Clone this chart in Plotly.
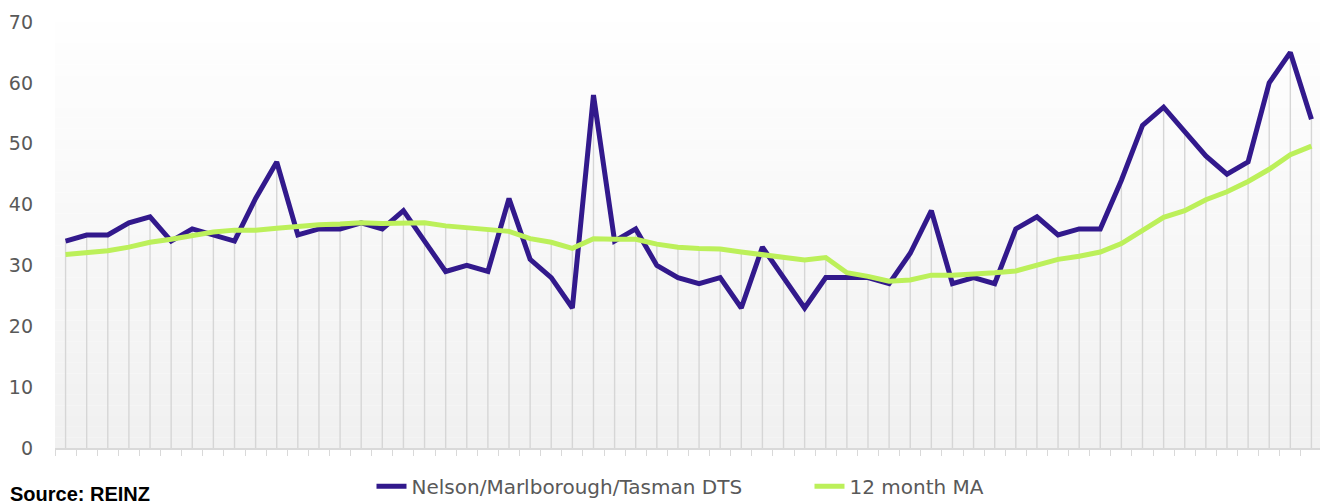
import plotly.graph_objects as go

# monthly days-to-sell, Nelson/Marlborough/Tasman (60 months)
months = list(range(1, 61))
dts = [34, 35, 35, 37, 38, 34, 36, 35, 34, 41,
       47, 35, 36, 36, 37, 36, 39, 34, 29, 30,
       29, 41, 31, 28, 23, 58, 34, 36, 30, 28,
       27, 28, 23, 33, 28, 23, 28, 28, 28, 27,
       32, 39, 27, 28, 27, 36, 38, 35, 36, 36,
       44, 53, 56, 52, 48, 45, 47, 60, 65, 54]
ma12 = [31.8, 32.1, 32.4, 33.0, 33.8, 34.3, 34.9, 35.5, 35.8, 35.8,
        36.1, 36.5, 36.7, 36.8, 37.0, 36.9, 37.0, 37.0, 36.5, 36.2,
        35.8, 35.6, 34.4, 33.8, 32.8, 34.4, 34.3, 34.3, 33.5, 33.0,
        32.8, 32.7, 32.2, 31.7, 31.3, 30.9, 31.3, 28.8, 28.2, 27.4,
        27.6, 28.4, 28.4, 28.5, 28.8, 29.1, 30.0, 31.0, 31.5, 32.2,
        33.6, 35.8, 37.9, 39.0, 40.8, 42.1, 43.8, 45.8, 48.2, 49.6]
y_ticks = [0, 10, 20, 30, 40, 50, 60, 70]

PURPLE = '#32198c'
GREEN = '#bcf05a'
GREY_TXT = '#595959'
FONT = 'DejaVu Sans'

fig = go.Figure()

# drop lines from the higher series down to the axis
drop_x, drop_y = [], []
for m, a, b in zip(months, dts, ma12):
    drop_x += [m, m, None]
    drop_y += [0, max(a, b), None]
fig.add_trace(go.Scatter(x=drop_x, y=drop_y, mode='lines',
                         line=dict(color='#d6d6d6', width=1.4),
                         showlegend=False, hoverinfo='skip'))

fig.add_trace(go.Scatter(x=months, y=dts, mode='lines',
                         name='Nelson/Marlborough/Tasman DTS',
                         line=dict(color=PURPLE, width=5)))
fig.add_trace(go.Scatter(x=months, y=ma12, mode='lines',
                         name='12 month MA',
                         line=dict(color=GREEN, width=5)))

# soft vertical gradient behind the plot area
n_bands = 40
for i in range(n_bands):
    t = i / n_bands
    c = int(241 + (255 - 241) * t)
    fig.add_shape(type='rect', xref='x domain', yref='y domain',
                  x0=0, x1=1, y0=t, y1=(i + 1) / n_bands,
                  fillcolor=f'rgb({c},{c},{c})', line_width=0, layer='below')

# page body adds an 8px offset, so the figure is 8px smaller than the window
fig.add_annotation(text='<b>Source: REINZ</b>', xref='paper', yref='paper',
                   x=-0.0371, y=-0.078, xanchor='left', yanchor='top',
                   showarrow=False, font=dict(family='Arial', size=20, color='#000000'))

fig.update_layout(
    width=1320, height=496,
    margin=dict(l=47, r=6, t=14, b=56),
    paper_bgcolor='white',
    plot_bgcolor='white',
    font=dict(family=FONT, color=GREY_TXT),
    legend=dict(orientation='h', x=0.2498, y=0.075, yref='container',
                xanchor='left', yanchor='top',
                font=dict(size=20, color=GREY_TXT), entrywidth=393,
                entrywidthmode='pixels', bgcolor='rgba(0,0,0,0)'),
    hovermode='x unified',
)
fig.update_xaxes(range=[0.5, 60.5], showgrid=False, zeroline=False,
                 showline=True, linecolor='#d9d9d9', linewidth=1.5,
                 tickmode='array', tickvals=[m + 0.5 for m in [0] + months],
                 ticktext=[''] * 61, ticks='outside', ticklen=6,
                 tickcolor='#d9d9d9', tickwidth=1.3, automargin=False)
fig.update_yaxes(range=[0, 70], tickvals=y_ticks, showgrid=False, zeroline=False,
                 showline=False, tickfont=dict(size=19, color=GREY_TXT),
                 ticklabelstandoff=21, automargin=False)

fig.write_html('out.html')
